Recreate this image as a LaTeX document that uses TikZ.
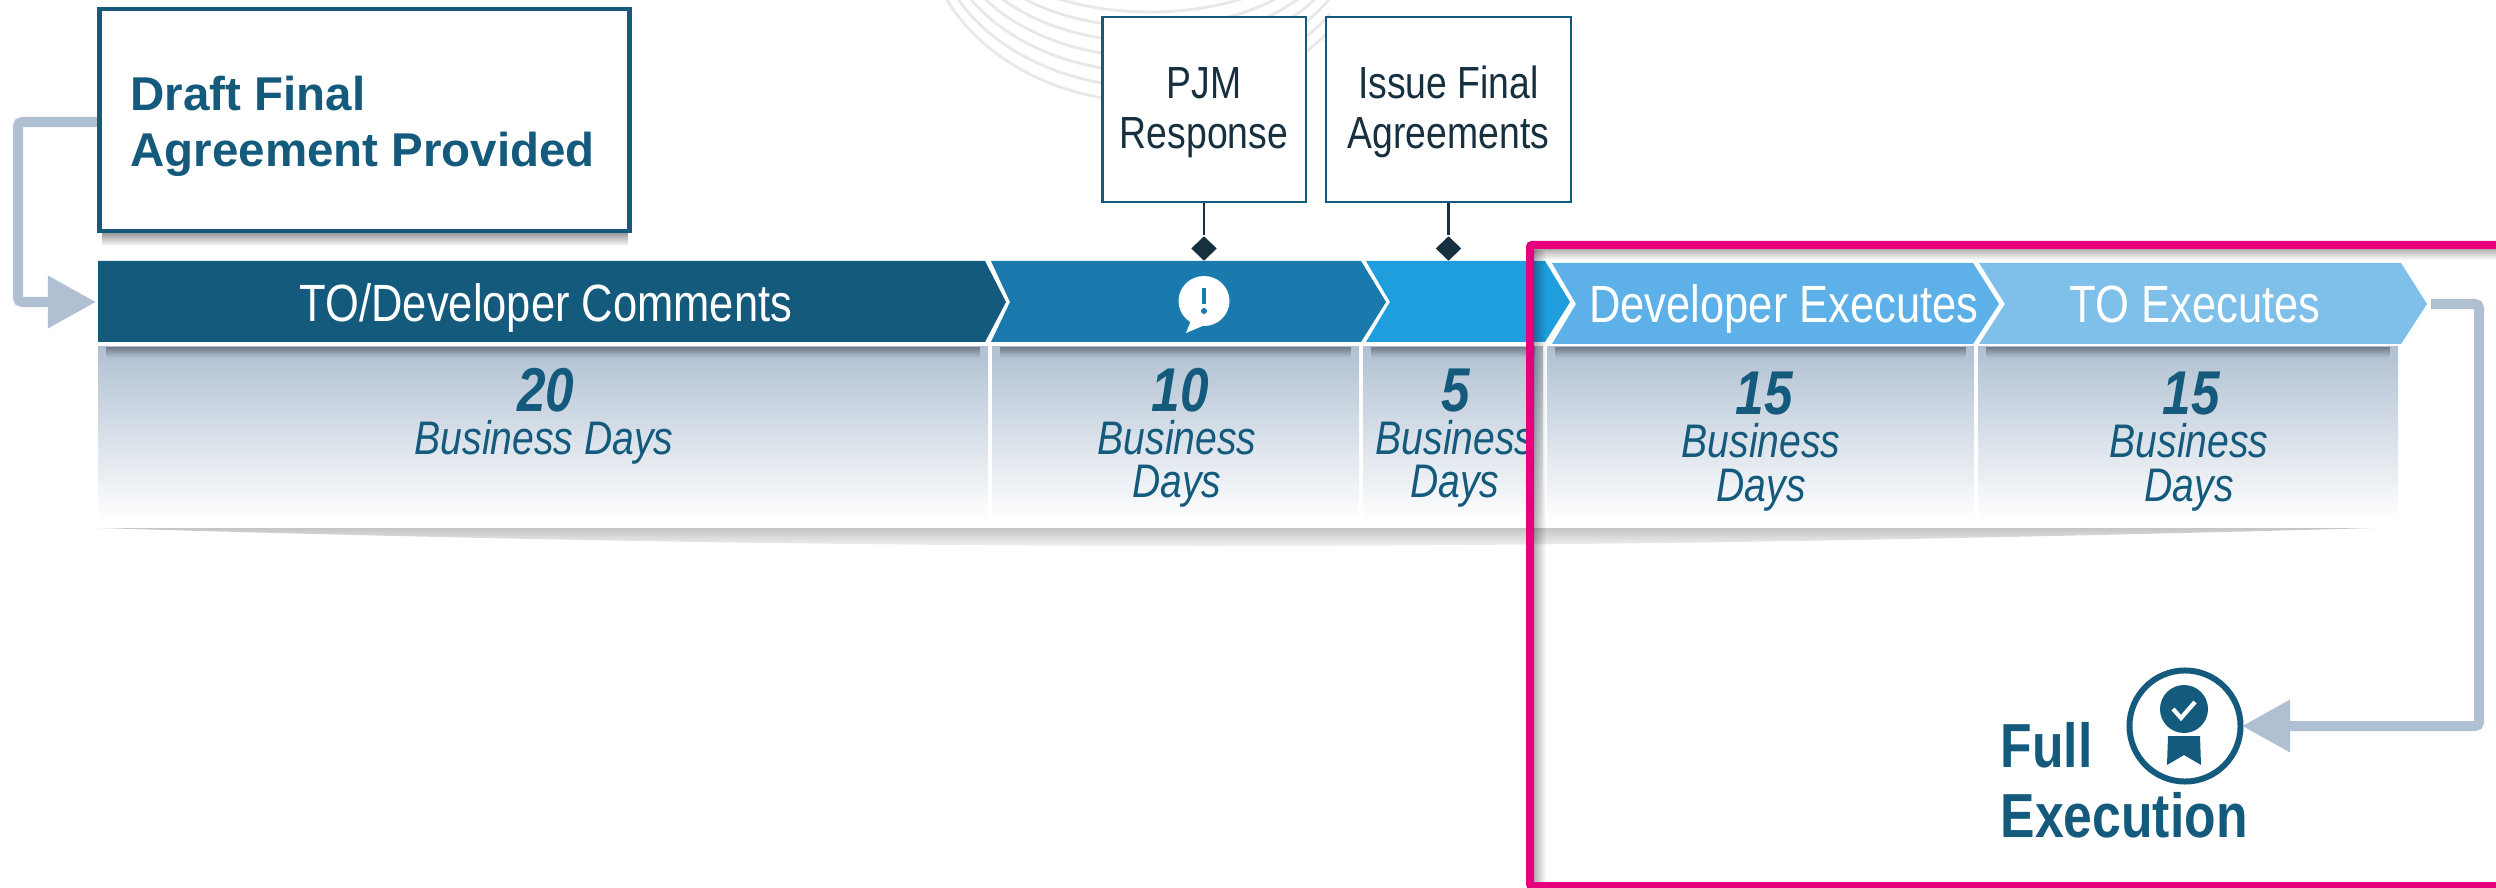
\documentclass[tikz,border=0pt]{standalone}
\usepackage{fontspec}
\setmainfont{Liberation Sans}
\newfontfamily\narrowfont[FakeStretch=.83]{Liberation Sans}
\usetikzlibrary{positioning, arrows.meta, fadings, shapes.geometric}
\definecolor{tealdark}{HTML}{145A7C}
\definecolor{tealmid}{HTML}{1A7AAD}
\definecolor{skyblue}{HTML}{1F9EDE}
\definecolor{skylight}{HTML}{5EB1E8}
\definecolor{skypale}{HTML}{7FC0EA}
\definecolor{steelgray}{HTML}{B0C0D2}
\definecolor{inkdark}{HTML}{17303F}
\definecolor{framepink}{HTML}{E6007E}
\tikzset{
	chevlabel/.style={text=white, font=\narrowfont\fontsize{14.9}{17}\selectfont, anchor=base},
	daynum/.style={text=tealdark, font=\narrowfont\fontsize{17.6}{20}\selectfont\bfseries\itshape, anchor=base},
	dayword/.style={text=tealdark, font=\narrowfont\fontsize{13.4}{12.3}\selectfont\itshape, align=center, anchor=base, inner sep=0pt},
	stepnote/.style={draw=tealdark, line width=.6pt, fill=white, minimum height=1.85cm, inner sep=0pt},
	steptext/.style={text=inkdark, align=center, anchor=base, inner sep=0pt,
		font=\narrowfont\fontsize{12.8}{14.4}\selectfont},
	notetip/.style={fill=inkdark, diamond, inner sep=0pt, minimum width=.26cm, minimum height=.25cm},
	elbow/.style={draw=steelgray, line width=.1cm, rounded corners=.04cm,
		-{Triangle[length=.48cm, width=.5cm]}},
	softshade/.style={fill=black, opacity=#1},
}

\begin{document}
\begin{tikzpicture}[x=.01cm, y=-.01cm]
\useasboundingbox (0,0) rectangle (2496,888);

% background arcs
\begin{scope}
	\clip (940,0) rectangle (1330,120);
	\foreach \k in {0,...,6}
		\draw[black!9, line width=.8pt] (1150,-80) ellipse ({226-\k*8} and {182-\k*15});
\end{scope}

% band below the chevrons
\foreach \a/\b in {98/988, 992/1359, 1363/1543, 1547/1974, 1978/2398} {
	\shade[top color=steelgray, bottom color=white] (\a,347) rectangle (\b,522);
	\fill[softshade=.35, path fading=south] (\a+8,347) rectangle (\b-8,358);
}
\fill[black!45, opacity=.5, path fading=south] (98,528) .. controls (900,552) and (1500,552) .. (2375,528) -- cycle;

% chevrons
\fill[tealdark] (98,261) -- (985,261) -- (1006,302) -- (985,342) -- (98,342) -- cycle;
\fill[tealmid] (991,261) -- (1361,261) -- (1386,302) -- (1361,342) -- (991,342) -- (1010,302) -- cycle;
\fill[skyblue] (1366,261) -- (1545,261) -- (1570,302) -- (1545,342) -- (1366,342) -- (1390,302) -- cycle;
\fill[skylight] (1552,263) -- (1973,263) -- (1999,304) -- (1973,344) -- (1552,344) -- (1576,304) -- cycle;
\fill[skypale] (1979,263) -- (2401,263) -- (2427,304) -- (2401,344) -- (1979,344) -- (2005,304) -- cycle;

\node[chevlabel] (comments) at (546,322) {TO/Developer Comments};
\node[chevlabel] (devexec) at (1784,323) {Developer Executes};
\node[chevlabel] (toexec) at (2195,323) {TO Executes};

% speech bubble
\fill[white] (1204,301) ellipse (25.5 and 25);
\fill[white] (1192,318) -- (1186,333) -- (1212,322) -- cycle;
\fill[tealmid] (1202,288) rectangle (1206,304);
\fill[tealmid] (1204,311) circle (3);

% day counts
\node[daynum] (n20) at (546,411) {20};
\node[dayword] (d20) at (544,454) {Business Days};
\node[daynum] (n10) at (1180,411) {10};
\node[dayword] (d10) at (1177,498) {Business\\Days};
\node[daynum] (n5) at (1456,411) {5};
\node[dayword] (d5) at (1455,498) {Business\\Days};
\node[daynum] (n15a) at (1764,414) {15};
\node[dayword] (d15a) at (1761,501) {Business\\Days};
\node[daynum] (n15b) at (2191,414) {15};
\node[dayword] (d15b) at (2189,501) {Business\\Days};

% notes above the chevrons
\node[stepnote, minimum width=2.03cm] (pjm) at (1204,109.5) {};
\node[stepnote, minimum width=2.44cm] (issue) at (1448.5,109.5) {};
\node[steptext] (pjmtext) at (1204,149) {PJM\\Response};
\node[steptext] (issuetext) at (1448.5,149) {Issue Final\\Agreements};
\node[notetip] (pjmtip) at (1204,248.5) {};
\node[notetip] (issuetip) at (1448.5,248.5) {};
\draw[inkdark, line width=.6pt] (pjm) -- (pjmtip);
\draw[inkdark, line width=.6pt] (issue) -- (issuetip);

% draft box and its connector
\coordinate (draftout) at (97,122);
\coordinate (chevin) at (96,302);
\draw[elbow] (draftout) -- (18,122) |- (chevin);
\fill[softshade=.4, path fading=south] (102,233) rectangle (628,246);
\node[draw=tealdark, line width=1.3pt, fill=white, minimum width=5.3cm, minimum height=2.22cm] (draft) at (364.5,120) {};
\node[text=tealdark, align=left, anchor=base west, inner sep=0pt,
	font=\fontsize{13.5}{16.2}\selectfont\bfseries] (drafttext) at (130,167) {Draft Final\\Agreement Provided};

% full execution
\node[draw=tealdark, line width=1.7pt, circle, minimum size=1.11cm, inner sep=0pt] (seal) at (2185,726) {};
\fill[tealdark] (2184,709) circle (24);
\draw[white, line width=1.2pt] (2173,709) -- (2181,718) -- (2195,702);
\fill[tealdark] (2168,736) -- (2200,736) -- (2201,765) -- (2184,755) -- (2167,765) -- cycle;
\node[text=tealdark, align=left, inner sep=0pt, anchor=base west,
	font=\narrowfont\fontsize{17.7}{19.9}\selectfont\bfseries] (fullexec) at (2000,837) {Full\\Execution};
\coordinate (tooutlet) at (2431,304);
\coordinate (sealin) at (2242,726);
\draw[elbow] (tooutlet) -- (2479,304) |- (sealin);

% pink frame
\fill[softshade=.3, path fading=east] (1534,250) rectangle (1546,882);
\fill[softshade=.3, path fading=south] (1534,249) rectangle (2496,260);
\draw[framepink, line width=.08cm, rounded corners=.02cm] (2510,245) -- (1530,245) -- (1530,886) -- (2510,886);
\end{tikzpicture}
\end{document}
